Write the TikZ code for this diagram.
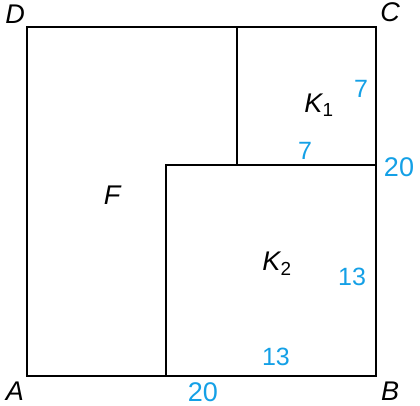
\documentclass[tikz,border=0pt]{standalone}
\usepackage{fontspec}
\setmainfont{Liberation Sans}
\usepackage{tikz}
\usetikzlibrary{positioning}
\definecolor{measure}{RGB}{20,160,230}

\begin{document}
\begin{tikzpicture}[
			x=1pt, y=1pt,
			edge/.style = {draw, line width=1.8pt},
			corner/.style = {font=\fontsize{27}{27}\selectfont\itshape, inner sep=0pt},
			area/.style = {font=\fontsize{27}{27}\selectfont\itshape, inner sep=0pt},
			len/.style = {text=measure, font=\fontsize{27}{27}\selectfont, inner sep=0pt},
			short/.style = {len, font=\fontsize{25}{25}\selectfont}
		]
		\useasboundingbox (0,0) rectangle (420,406);
		% Corners.
		\coordinate (a) at (27,30);
		\coordinate (b) at (376,30);
		\coordinate (c) at (376,379);
		\coordinate (d) at (27,379);
		\coordinate (k1) at (237,241);
		\coordinate (k2) at (166,241);
		\coordinate (k1t) at (237,379);
		\coordinate (k2b) at (166,30);
		\coordinate (k1r) at (376,241);

		\draw[edge] (a) -- (b) -- (c) -- (d) -- cycle;
		\draw[edge] (k1t) -- (k1) -- (k1r);
		\draw[edge] (k2b) -- (k2) -- (k1);

		% Labels.
		\node[corner] (la) at (15,15) {A};
		\node[corner] (lb) at (390,15) {B};
		\node[corner] (lc) at (390,394) {C};
		\node[corner] (ld) at (15,392) {D};
		\node[area] (f) at (112,211) {F};
		\node[area] (kk1) at (319,301) {K\textsubscript{\upshape 1}};
		\node[area] (kk2) at (277,142) {K\textsubscript{\upshape 2}};
		% Lengths.
		\node[short] (s1) at (361,317) {7};
		\node[short] (s2) at (305,255) {7};
		\node[len] (s3) at (399,239) {20};
		\node[short] (s4) at (352,129) {13};
		\node[short] (s5) at (276,49) {13};
		\node[len] (s6) at (203,14) {20};
	\end{tikzpicture}
\end{document}
